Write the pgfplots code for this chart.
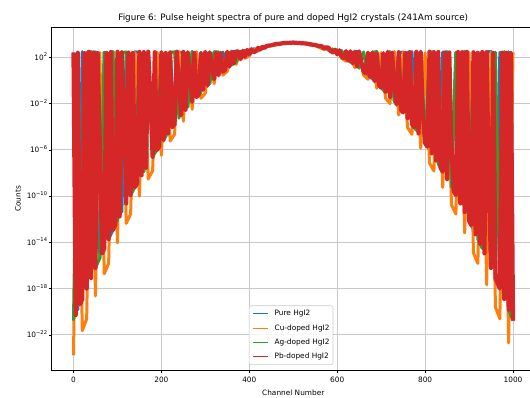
\documentclass[border=0pt]{standalone}
\usepackage{fontspec}
\setmainfont{DejaVu Sans}
\usepackage{pgfplots}
\pgfplotsset{compat=1.18}
\definecolor{cA}{HTML}{1F77B4}
\definecolor{cB}{HTML}{FF7F0E}
\definecolor{cC}{HTML}{2CA02C}
\definecolor{cD}{HTML}{D62728}
\definecolor{gridc}{HTML}{C8C8C8}
\definecolor{legc}{HTML}{CCCCCC}
\newcommand\tickfont{\fontsize{7.36bp}{8.8bp}\selectfont}
\newcommand\supfont{\fontsize{5.2bp}{6bp}\selectfont}
\newcommand\tl[1]{10\raisebox{3.1bp}{\supfont #1}}
\begin{document}
\begin{tikzpicture}
\useasboundingbox (-51.5bp,-27.3bp) rectangle (478.5bp,370.7bp);
\clip (-51.5bp,-27.3bp) rectangle (478.5bp,370.7bp);
\begin{axis}[
 at={(0bp,0bp)}, anchor=south west,
 scale only axis, width=483.5bp, height=343.7bp,
 xmin=-50, xmax=1050,
 ymode=log, ymin=7.9e-26, ymax=4.2e4,
 xtick={0,200,400,600,800,1000},
 xticklabels={0,200,400,600,800,1000},
 scaled x ticks=false,
 ytick={1e-22,1e-18,1e-14,1e-10,1e-6,1e-2,1e2},
 yticklabels={\tl{−22},\tl{−18},\tl{−14},\tl{−10},\tl{−6},\tl{−2},\tl{2}},
 yminorticks=false,
 tick align=outside, tick pos=left,
 major tick length=2.6bp,
 every tick/.style={black, line width=0.6bp},
 axis line style={black, line width=0.6bp},
 grid=major,
 major grid style={gridc, line width=0.8bp},
 ticklabel style={font=\tickfont},
 xticklabel style={anchor=north, inner sep=0pt, yshift=-3.4bp},
 yticklabel style={anchor=base east, inner sep=0pt, xshift=-1.6bp, yshift=-2.7bp},
 legend style={at={(0.4955,0.0166)}, anchor=south, draw=legc, line width=0.6bp,
   rounded corners=2bp, fill=white, fill opacity=0.8, text opacity=1,
   font=\tickfont, inner xsep=3.5bp, inner ysep=4.6bp, row sep=7.1bp,
   nodes={inner sep=0pt, text height=5.6bp, text depth=1.5bp},
   /tikz/every odd column/.append style={column sep=5.9bp}},
 legend cell align=left,
 legend image code/.code={\draw[#1, line width=1.1bp, line join=miter] (0bp,0bp) -- (15bp,0bp);},
 every axis plot/.append style={line join=round},
]
% Pure HgI2
\addplot[cA, line width=3bp] coordinates {
(0,265) (10,1.48e-20) (20,310) (30,1.0e-18) (40,248) (50,292) (60,4.3e-16) (70,275) (80,1.9e-14) (90,1.2e-13)
(100,320) (110,4.2e-12) (120,256) (130,1.2e-10) (140,299) (150,268) (160,1.3e-8) (170,315) (180,2.5e-7) (190,259)
(200,3.8e-6) (210,1.4e-5) (220,303) (230,1.7e-4) (240,284) (250,247) (260,4.9e-3) (270,322) (280,3.7e-2) (290,270)
(300,0.24) (310,0.56) (320,295) (330,2.8) (340,288) (350,11.5) (360,318) (370,300) (380,69) (390,390)
(400,182) (410,560) (420,407) (430,830)
(440,930) (450,1110) (460,1400) (470,1560) (480,1700) (490,1820) (500,1860) (510,1800) (520,1700) (530,1540) (540,1380) (550,1160) (560,960)
(570,562) (580,680) (590,275) (600,450) (610,115) (620,355) (630,39.8) (640,300) (650,330) (660,5.8)
(670,262) (680,1.29) (690,296) (700,0.24) (710,9.8e-2) (720,315) (730,1.4e-2) (740,250) (750,287) (760,5.4e-4)
(770,309) (780,4.9e-5) (790,266) (800,3.8e-6) (810,9.8e-7) (820,326) (830,5.9e-8) (840,278) (850,301) (860,6.0e-10)
(870,257) (880,2.3e-11) (890,312) (900,7.2e-13) (910,1.2e-13) (920,283) (930,3.0e-15) (940,296) (950,318) (960,8.1e-18)
(970,271) (980,1.26e-19) (990,305) (1000,1.66e-21)
};
\addlegendentry{Pure HgI2}
% Cu-doped HgI2
\addplot[cB, line width=3bp] coordinates {
(0,1.7e-24) (10,284) (20,2.3e-22) (30,2.4e-21) (40,301) (50,2.3e-19) (60,262) (70,1.9e-17) (80,1.5e-16) (90,312)
(100,9.1e-15) (110,279) (120,4.4e-13) (130,2.8e-12) (140,250) (150,1.0e-10) (160,307) (170,3.0e-9) (180,1.5e-8) (190,289)
(200,3.2e-7) (210,270) (220,5.8e-6) (230,2.2e-5) (240,316) (250,3.0e-4) (260,244) (270,3.2e-3) (280,298) (290,2.9e-2)
(300,7.9e-2) (310,286) (320,0.52) (330,305) (340,2.9) (350,6.2) (360,292) (370,25) (380,320) (390,81)
(400,138) (410,500) (420,339) (430,760)
(440,880) (450,1050) (460,1122) (470,1520) (480,1514) (490,1850) (500,1660) (510,1830) (520,1514) (530,1540) (540,1122) (550,1080) (560,676)
(570,490) (580,640) (590,224) (600,420) (610,81) (620,47) (630,310) (640,12.9) (650,282) (660,2.9)
(670,1.26) (680,300) (690,0.21) (700,262) (710,2.9e-2) (720,1.0e-2) (730,318) (740,1.0e-3) (750,276) (760,8.5e-5)
(770,2.2e-5) (780,293) (790,1.4e-6) (800,251) (810,7.1e-8) (820,1.5e-8) (830,309) (840,5.6e-10) (850,285) (860,1.7e-11)
(870,2.8e-12) (880,297) (890,6.5e-14) (900,268) (910,1.2e-15) (920,1.5e-16) (930,314) (940,2.1e-18) (950,280) (960,2.5e-20)
(970,2.4e-21) (980,290) (990,2.0e-23) (1000,262)
};
\addlegendentry{Cu-doped HgI2}
% Ag-doped HgI2
\addplot[cC, line width=3bp] coordinates {
(0,1.66e-21) (10,295) (20,1.26e-19) (30,262) (40,308) (50,6.0e-17) (60,4.3e-16) (70,281) (80,1.9e-14) (90,316)
(100,7.2e-13) (110,253) (120,290) (130,1.2e-10) (140,6.0e-10) (150,302) (160,1.3e-8) (170,275) (180,2.5e-7) (190,9.8e-7)
(200,311) (210,1.4e-5) (220,266) (230,297) (240,5.4e-4) (250,284) (260,4.9e-3) (270,321) (280,3.7e-2) (290,9.8e-2)
(300,258) (310,0.56) (320,299) (330,277) (340,5.8) (350,306) (360,21.9) (370,39.8) (380,330) (390,115)
(400,470) (410,275) (420,690) (430,562)
(440,960) (450,1100) (460,1390) (470,1540) (480,1740) (490,1800) (500,1880) (510,1790) (520,1720) (530,1560) (540,1400) (550,1130) (560,950)
(570,810) (580,407) (590,540) (600,182) (610,380) (620,69) (630,39.8) (640,312) (650,11.5) (660,290)
(670,2.8) (680,271) (690,318) (700,0.24) (710,9.8e-2) (720,287) (730,1.4e-2) (740,305) (750,1.7e-3) (760,262)
(770,1.7e-4) (780,4.9e-5) (790,336) (800,3.8e-6) (810,279) (820,301) (830,5.9e-8) (840,1.3e-8) (850,294) (860,6.0e-10)
(870,268) (880,2.3e-11) (890,310) (900,7.2e-13) (910,285) (920,1.9e-14) (930,3.0e-15) (940,299) (950,6.0e-17) (960,276)
(970,1.0e-18) (980,313) (990,1.48e-20) (1000,1.66e-21)
};
\addlegendentry{Ag-doped HgI2}
% Pb-doped HgI2
\addplot[cD, line width=4.2bp] coordinates {
(0,252) (5,5.0e-21) (10,236) (15,4.4e-20) (20,1.26e-19) (25,228) (30,1.0e-18) (35,305) (40,8.1e-18) (45,258)
(50,6.0e-17) (55,232) (60,3e-6) (65,1.1e-15) (70,3.0e-15) (75,240) (80,1.9e-14) (85,286) (90,1.2e-13) (95,3.0e-13)
(100,301) (105,1.7e-12) (110,272) (115,2e-3) (120,2.3e-11) (125,260) (130,1.2e-10) (135,238) (140,6.0e-10) (145,1.3e-9)
(150,293) (155,6.2e-9) (160,280) (165,2.8e-8) (170,308) (175,4e-2) (180,2.5e-7) (185,276) (190,9.8e-7) (195,1.9e-6)
(200,252) (205,7.4e-6) (210,236) (215,2.6e-5) (220,262) (225,9.1e-5) (230,1.7e-4) (235,305) (240,0.5) (245,9.5e-4)
(250,289) (255,2.9e-3) (260,278) (265,3) (270,1.4e-2) (275,240) (280,3.7e-2) (285,6.0e-2) (290,222) (295,0.155)
(300,301) (305,0.37) (310,272) (315,20) (320,1.29) (325,262) (330,2.8) (335,242) (340,5.8) (345,8.1)
(350,305) (355,15.8) (360,302) (365,29.5) (370,330) (375,316) (380,69) (385,365) (390,115) (395,435)
(400,182) (405,505) (410,275) (415,339) (420,669) (425,479) (430,836) (435,646)
(440,990) (450,1080) (460,1420) (470,1500) (480,1760) (490,1780) (500,1900) (510,1760) (520,1640) (530,1580) (540,1300) (550,1150) (560,900)
(565,932) (570,562) (575,734) (580,708) (585,339) (590,275) (595,458) (600,182) (605,405) (610,115)
(615,89) (620,337) (625,52.5) (630,333) (635,29.5) (640,302) (645,15.8) (650,320) (655,40) (660,5.8)
(665,4.1) (670,253) (675,1.9) (680,254) (685,0.85) (690,236) (695,0.37) (700,0.24) (705,228) (710,9.8e-2)
(715,305) (720,3.7e-2) (725,258) (730,0.3) (735,8.3e-3) (740,278) (745,2.9e-3) (750,1.7e-3) (755,240) (760,5.4e-4)
(765,286) (770,1.7e-4) (775,9.1e-5) (780,301) (785,2.6e-5) (790,272) (795,1e-3) (800,3.8e-6) (805,1.9e-6) (810,312)
(815,4.9e-7) (820,268) (825,1.2e-7) (830,293) (835,2.8e-8) (840,1.3e-8) (845,243) (850,2.9e-9) (855,264) (860,2e-6)
(865,2.7e-10) (870,1.2e-10) (875,290) (880,2.3e-11) (885,281) (890,4.2e-12) (895,297) (900,7.2e-13) (905,3.0e-13) (910,274)
(915,4.9e-14) (920,245) (925,7.6e-15) (930,289) (935,1.1e-15) (940,278) (945,1e-9) (950,6.0e-17) (955,240) (960,8.1e-18)
(965,2.9e-18) (970,1.0e-18) (975,255) (980,1.26e-19) (985,247) (990,1.48e-20) (995,234) (1000,1.66e-21)
};
\addlegendentry{Pb-doped HgI2}
\end{axis}
\node[anchor=base, font=\fontsize{8.83bp}{10.6bp}\selectfont] at (241.75bp,350.2bp) {Figure 6: Pulse height spectra of pure and doped HgI2 crystals (241Am source)};
\node[anchor=base, font=\tickfont] at (241.75bp,-25.0bp) {Channel Number};
\node[anchor=base, rotate=90, font=\tickfont] at (-31bp,171.85bp) {Counts};
\end{tikzpicture}
\end{document}
